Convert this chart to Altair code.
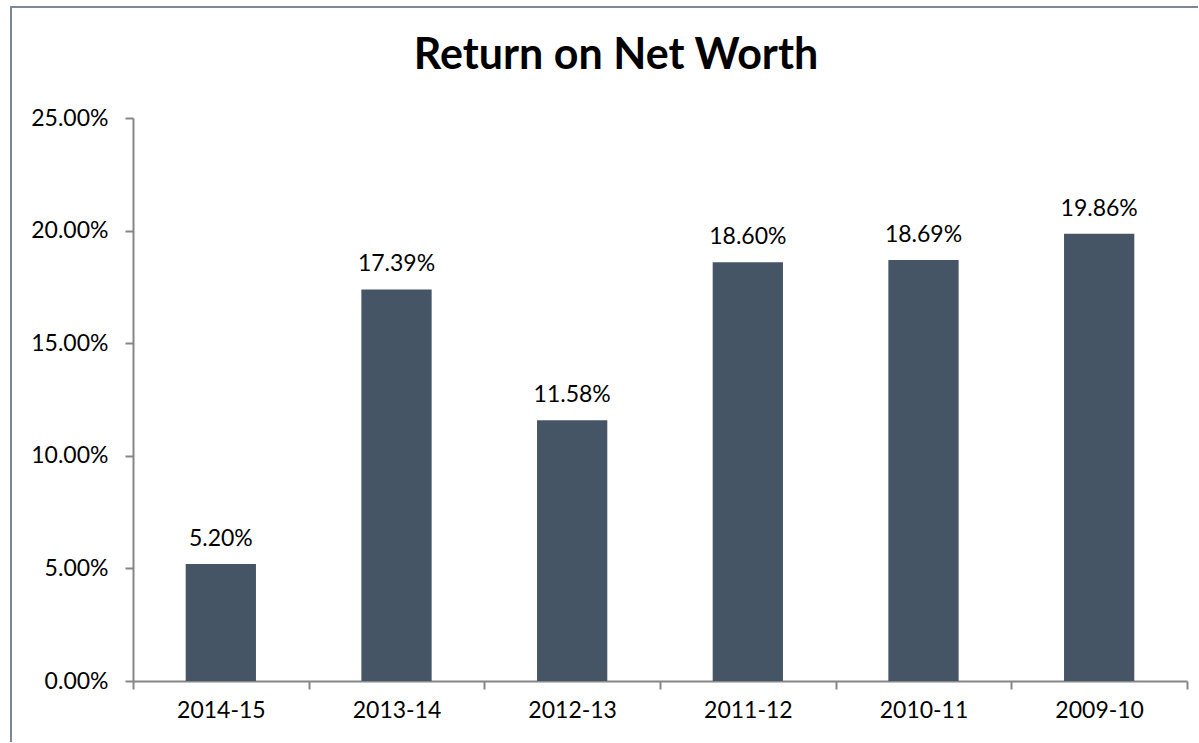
import altair as alt
import pandas as pd

years = ["2014-15", "2013-14", "2012-13", "2011-12", "2010-11", "2009-10"]
roe = [0.0520, 0.1739, 0.1158, 0.1860, 0.1869, 0.1986]
y_ticks = [0.0, 0.05, 0.10, 0.15, 0.20, 0.25]

df = pd.DataFrame({"year": years, "roe": roe})

W, H = 1054, 563
FONT = "Lato"
AXIS_COLOR = "#868686"
BAR_COLOR = "#465565"

x = alt.X("year:N", sort=None, title=None,
          scale=alt.Scale(paddingInner=0, paddingOuter=0),
          axis=alt.Axis(labelAngle=0, tickBand="extent", domainColor=AXIS_COLOR,
                        tickColor=AXIS_COLOR, tickSize=8, labelPadding=10,
                        labelFontSize=23, labelFont=FONT, labelColor="#000000",
                        domainWidth=2, tickWidth=2, grid=False))
y = alt.Y("roe:Q", title=None,
          scale=alt.Scale(domain=[0, 0.25], nice=False, zero=True),
          axis=alt.Axis(values=y_ticks, format=".2%", domainColor=AXIS_COLOR,
                        tickColor=AXIS_COLOR, tickSize=8, labelPadding=17,
                        labelFontSize=23, labelFont=FONT, labelColor="#000000",
                        domainWidth=2, tickWidth=2, grid=False))

bars = alt.Chart(df).mark_bar(color=BAR_COLOR, width=alt.RelativeBandSize(0.4)).encode(x=x, y=y)

labels = alt.Chart(df).mark_text(font=FONT, fontSize=23, color="#000000",
                                 baseline="alphabetic", dy=-18).encode(
    x=x,
    y=y,
    text=alt.Text("roe:Q", format=".2%"),
)

border = alt.Chart(alt.Data(values=[{}])).mark_rect(
    fill=None, stroke="#7d8896", strokeWidth=2
).encode(
    x=alt.value(-122), x2=alt.value(W + 40),
    y=alt.value(-111), y2=alt.value(H + 80),
)

chart = alt.layer(border, bars, labels).properties(
    width=W, height=H,
    background="white",
    title=alt.TitleParams("Return on Net Worth", font=FONT, fontSize=43,
                          fontWeight="bold", color="#000000", anchor="middle",
                          frame="group", dx=-44, offset=-106, baseline="alphabetic"),
    autosize=alt.AutoSizeParams(type="none"),
    padding={"left": 133, "top": 118, "right": 11, "bottom": 61},
).configure_view(stroke=None)

chart.save("out.html", embed_options={"renderer": "svg", "actions": False})
